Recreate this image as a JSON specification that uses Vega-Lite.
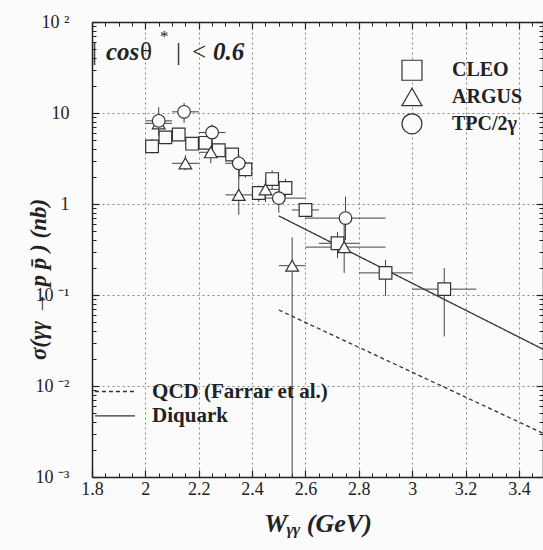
{
  "$schema": "https://vega.github.io/schema/vega-lite/v6.json",
  "width": 451,
  "height": 455,
  "autosize": "none",
  "padding": {"left": 92, "top": 22, "right": 0, "bottom": 73},
  "background": "#fbfbfb",
  "config": {
    "view": {"stroke": null},
    "font": "Liberation Serif",
    "axis": {"domainColor": "#222", "tickColor": "#222", "labelColor": "#222", "titleColor": "#222", "labelFont": "Liberation Serif", "titleFont": "Liberation Serif"}
  },
  "datasets": {
    "pts": [
      {"exp": "CLEO", "W": 2.025, "s": 4.3, "slo": 3.6, "shi": 5.2, "wlo": 2.0, "whi": 2.05},
      {"exp": "CLEO", "W": 2.075, "s": 5.4, "slo": 4.6, "shi": 6.3, "wlo": 2.05, "whi": 2.1},
      {"exp": "CLEO", "W": 2.125, "s": 5.8, "slo": 5.0, "shi": 6.7, "wlo": 2.1, "whi": 2.15},
      {"exp": "CLEO", "W": 2.175, "s": 4.6, "slo": 3.9, "shi": 5.4, "wlo": 2.15, "whi": 2.2},
      {"exp": "CLEO", "W": 2.225, "s": 4.7, "slo": 4.0, "shi": 5.5, "wlo": 2.2, "whi": 2.25},
      {"exp": "CLEO", "W": 2.275, "s": 3.9, "slo": 3.3, "shi": 4.6, "wlo": 2.25, "whi": 2.3},
      {"exp": "CLEO", "W": 2.325, "s": 3.5, "slo": 2.9, "shi": 4.1, "wlo": 2.3, "whi": 2.35},
      {"exp": "CLEO", "W": 2.375, "s": 2.4, "slo": 1.95, "shi": 2.9, "wlo": 2.35, "whi": 2.4},
      {"exp": "CLEO", "W": 2.425, "s": 1.32, "slo": 1.05, "shi": 1.6, "wlo": 2.4, "whi": 2.45},
      {"exp": "CLEO", "W": 2.475, "s": 1.88, "slo": 1.45, "shi": 2.35, "wlo": 2.45, "whi": 2.5},
      {"exp": "CLEO", "W": 2.525, "s": 1.5, "slo": 1.2, "shi": 1.9, "wlo": 2.5, "whi": 2.55},
      {"exp": "CLEO", "W": 2.6, "s": 0.86, "slo": 0.72, "shi": 1.0, "wlo": 2.55, "whi": 2.65},
      {"exp": "CLEO", "W": 2.72, "s": 0.37, "slo": 0.255, "shi": 0.49, "wlo": 2.65, "whi": 2.8},
      {"exp": "CLEO", "W": 2.9, "s": 0.175, "slo": 0.098, "shi": 0.243, "wlo": 2.8, "whi": 3.0},
      {"exp": "CLEO", "W": 3.12, "s": 0.116, "slo": 0.035, "shi": 0.198, "wlo": 3.0, "whi": 3.24},
      {"exp": "ARGUS", "W": 2.05, "s": 7.7, "slo": 5.8, "shi": 9.5, "wlo": 2.0, "whi": 2.1},
      {"exp": "ARGUS", "W": 2.15, "s": 2.8, "slo": 2.35, "shi": 3.45, "wlo": 2.1, "whi": 2.2},
      {"exp": "ARGUS", "W": 2.245, "s": 3.7, "slo": 2.8, "shi": 4.7, "wlo": 2.2, "whi": 2.3},
      {"exp": "ARGUS", "W": 2.35, "s": 1.26, "slo": 0.76, "shi": 2.0, "wlo": 2.3, "whi": 2.4},
      {"exp": "ARGUS", "W": 2.45, "s": 1.45, "slo": 1.05, "shi": 1.9, "wlo": 2.4, "whi": 2.5},
      {"exp": "ARGUS", "W": 2.55, "s": 0.21, "slo": 0.001, "shi": 0.43, "wlo": 2.5, "whi": 2.6},
      {"exp": "ARGUS", "W": 2.745, "s": 0.336, "slo": 0.175, "shi": 0.6, "wlo": 2.6, "whi": 2.9},
      {"exp": "TPC/2γ", "W": 2.05, "s": 8.2, "slo": 5.6, "shi": 11.6, "wlo": 2.0, "whi": 2.1},
      {"exp": "TPC/2γ", "W": 2.145, "s": 10.3, "slo": 7.8, "shi": 12.9, "wlo": 2.1, "whi": 2.2},
      {"exp": "TPC/2γ", "W": 2.25, "s": 6.1, "slo": 4.2, "shi": 7.5, "wlo": 2.2, "whi": 2.3},
      {"exp": "TPC/2γ", "W": 2.35, "s": 2.8, "slo": 1.9, "shi": 3.5, "wlo": 2.3, "whi": 2.4},
      {"exp": "TPC/2γ", "W": 2.5, "s": 1.16, "slo": 0.8, "shi": 1.4, "wlo": 2.45, "whi": 2.6},
      {"exp": "TPC/2γ", "W": 2.75, "s": 0.7, "slo": 0.4, "shi": 1.2, "wlo": 2.6, "whi": 2.9}
    ],
    "legend": [
      {"exp": "CLEO", "W": 2.999, "tx": 3.149, "s": 29.5},
      {"exp": "ARGUS", "W": 2.999, "tx": 3.149, "s": 15.0},
      {"exp": "TPC/2γ", "W": 2.999, "tx": 3.149, "s": 7.6}
    ],
    "theory": [
      {"model": "QCD", "W": 2.5, "s": 0.0684},
      {"model": "QCD", "W": 3.5, "s": 0.00293},
      {"model": "Diquark", "W": 2.5, "s": 0.74},
      {"model": "Diquark", "W": 3.5, "s": 0.0245}
    ],
    "keys": [
      {"model": "QCD", "label": "QCD (Farrar et al.)", "x1": 1.811, "x2": 1.961, "tx": 2.025, "s": 0.0087},
      {"model": "Diquark", "label": "Diquark", "x1": 1.811, "x2": 1.961, "tx": 2.025, "s": 0.0047}
    ],
    "notes": [
      {"t": "|", "W": 1.8, "s": 38.2, "sty": "reg"},
      {"t": "cos", "W": 1.852, "s": 38.2, "sty": "bi"},
      {"t": "θ", "W": 1.98, "s": 38.2, "sty": "reg"},
      {"t": "*", "W": 2.055, "s": 68, "sty": "sup"},
      {"t": "|", "W": 2.115, "s": 38.2, "sty": "reg"},
      {"t": "<", "W": 2.175, "s": 38.2, "sty": "reg"},
      {"t": "0.6", "W": 2.253, "s": 38.2, "sty": "bi"}
    ]
  },
  "resolve": {"axis": {"x": "independent", "y": "independent"}},
  "layer": [
    {
      "data": {"name": "pts"},
      "mark": {"type": "point", "opacity": 0},
      "encoding": {
        "x": {"field": "W", "type": "quantitative", "scale": {"domain": [1.8, 3.49], "nice": false, "zero": false},
          "axis": {"orient": "bottom", "values": [1.8, 2, 2.2, 2.4, 2.6, 2.8, 3, 3.2, 3.4], "format": "~g", "grid": true, "gridDash": [2, 3], "gridColor": "#888", "gridWidth": 1,
            "tickSize": -7, "tickWidth": 1.2, "domainWidth": 1.5, "labelFontSize": 18, "labelPadding": 10, "labelFlush": false,
            "title": "Wᵧᵧ (GeV)", "titleFontSize": 26, "titleFontStyle": "italic", "titleFontWeight": "bold", "titlePadding": 12}},
        "y": {"field": "s", "type": "quantitative", "scale": {"type": "log", "domain": [0.001, 100], "nice": false},
          "axis": {"orient": "left", "values": [0.001, 0.01, 0.1, 1, 10, 100], "grid": true, "gridDash": [2, 3], "gridColor": "#888", "gridWidth": 1,
            "tickSize": -7, "tickWidth": 1.2, "domainWidth": 1.5, "labelFontSize": 18, "labelPadding": 30, "labelFlush": false,
            "labelExpr": "datum.value >= 99 ? '10 ²' : datum.value >= 9.9 ? '10' : datum.value >= 0.99 ? '1' : datum.value >= 0.099 ? '10 ⁻¹' : datum.value >= 0.0099 ? '10 ⁻²' : '10 ⁻³'",
            "title": "σ(γγ → p p̄ ) (nb)", "titleFontSize": 23, "titleFontStyle": "italic", "titleFontWeight": "bold",
            "titleX": -54, "titleY": 257, "titleAlign": "center", "titleBaseline": "middle", "titleAngle": 270}}
      }
    },
    {
      "data": {"name": "pts"},
      "mark": {"type": "point", "opacity": 0},
      "encoding": {
        "x": {"field": "W", "type": "quantitative", "axis": {"orient": "top", "values": [1.8, 2, 2.2, 2.4, 2.6, 2.8, 3, 3.2, 3.4], "labels": false, "grid": false, "tickSize": -7, "tickWidth": 1.2, "domainWidth": 1.5, "title": null}},
        "y": {"field": "s", "type": "quantitative", "axis": {"orient": "right", "values": [0.001, 0.01, 0.1, 1, 10, 100], "labels": false, "grid": false, "tickSize": -7, "tickWidth": 1.2, "domainWidth": 1.5, "title": null}}
      }
    },
    {
      "data": {"name": "pts"},
      "mark": {"type": "point", "opacity": 0},
      "encoding": {
        "x": {"field": "W", "type": "quantitative", "axis": {"orient": "bottom", "values": [1.85, 1.9, 1.95, 2.05, 2.1, 2.15, 2.25, 2.3, 2.35, 2.45, 2.5, 2.55, 2.65, 2.7, 2.75, 2.85, 2.9, 2.95, 3.05, 3.1, 3.15, 3.25, 3.3, 3.35, 3.45], "labels": false, "grid": false, "domain": false, "tickSize": -4, "tickWidth": 1, "title": null}},
        "y": {"field": "s", "type": "quantitative", "axis": {"orient": "left", "values": [0.002, 0.003, 0.004, 0.005, 0.006, 0.007, 0.008, 0.009, 0.02, 0.03, 0.04, 0.05, 0.06, 0.07, 0.08, 0.09, 0.2, 0.3, 0.4, 0.5, 0.6, 0.7, 0.8, 0.9, 2, 3, 4, 5, 6, 7, 8, 9, 20, 30, 40, 50, 60, 70, 80, 90], "labels": false, "grid": false, "domain": false, "tickSize": -4, "tickWidth": 1, "title": null}}
      }
    },
    {
      "data": {"name": "pts"},
      "mark": {"type": "point", "opacity": 0},
      "encoding": {
        "x": {"field": "W", "type": "quantitative", "axis": {"orient": "top", "values": [1.85, 1.9, 1.95, 2.05, 2.1, 2.15, 2.25, 2.3, 2.35, 2.45, 2.5, 2.55, 2.65, 2.7, 2.75, 2.85, 2.9, 2.95, 3.05, 3.1, 3.15, 3.25, 3.3, 3.35, 3.45], "labels": false, "grid": false, "domain": false, "tickSize": -4, "tickWidth": 1, "title": null}},
        "y": {"field": "s", "type": "quantitative", "axis": {"orient": "right", "values": [0.002, 0.003, 0.004, 0.005, 0.006, 0.007, 0.008, 0.009, 0.02, 0.03, 0.04, 0.05, 0.06, 0.07, 0.08, 0.09, 0.2, 0.3, 0.4, 0.5, 0.6, 0.7, 0.8, 0.9, 2, 3, 4, 5, 6, 7, 8, 9, 20, 30, 40, 50, 60, 70, 80, 90], "labels": false, "grid": false, "domain": false, "tickSize": -4, "tickWidth": 1, "title": null}}
      }
    },
    {
      "data": {"name": "theory"},
      "mark": {"type": "line", "clip": true, "color": "#333", "strokeWidth": 1.3},
      "encoding": {
        "x": {"field": "W", "type": "quantitative", "axis": null},
        "y": {"field": "s", "type": "quantitative", "axis": null},
        "detail": {"field": "model"},
        "strokeDash": {"field": "model", "type": "nominal", "scale": {"domain": ["QCD", "Diquark"], "range": [[4, 3], [1, 0]]}, "legend": null}
      }
    },
    {
      "data": {"name": "pts"},
      "mark": {"type": "rule", "color": "#444", "strokeWidth": 1, "clip": true},
      "encoding": {
        "x": {"field": "wlo", "type": "quantitative", "axis": null},
        "x2": {"field": "whi"},
        "y": {"field": "s", "type": "quantitative", "axis": null}
      }
    },
    {
      "data": {"name": "pts"},
      "mark": {"type": "rule", "color": "#444", "strokeWidth": 1, "clip": true},
      "encoding": {
        "x": {"field": "W", "type": "quantitative", "axis": null},
        "y": {"field": "slo", "type": "quantitative", "axis": null},
        "y2": {"field": "shi"}
      }
    },
    {
      "data": {"name": "pts"},
      "mark": {"type": "point", "filled": false, "fill": "#fbfbfb", "fillOpacity": 1, "stroke": "#333", "strokeWidth": 1.2, "size": 160, "opacity": 1},
      "encoding": {
        "x": {"field": "W", "type": "quantitative", "axis": null},
        "y": {"field": "s", "type": "quantitative", "axis": null},
        "shape": {"field": "exp", "type": "nominal", "scale": {"domain": ["CLEO", "ARGUS", "TPC/2γ"], "range": ["square", "triangle-up", "circle"]}, "legend": null}
      }
    },
    {
      "data": {"name": "legend"},
      "mark": {"type": "point", "filled": false, "fill": "#fbfbfb", "fillOpacity": 1, "stroke": "#333", "strokeWidth": 1.2, "size": 400, "opacity": 1},
      "encoding": {
        "x": {"field": "W", "type": "quantitative", "axis": null},
        "y": {"field": "s", "type": "quantitative", "axis": null},
        "shape": {"field": "exp", "type": "nominal", "legend": null}
      }
    },
    {
      "data": {"name": "legend"},
      "mark": {"type": "text", "align": "left", "baseline": "middle", "font": "Liberation Serif", "fontWeight": "bold", "fontSize": 20, "color": "#222"},
      "encoding": {
        "x": {"field": "tx", "type": "quantitative", "axis": null},
        "y": {"field": "s", "type": "quantitative", "axis": null},
        "text": {"field": "exp"}
      }
    },
    {
      "data": {"name": "keys"},
      "mark": {"type": "rule", "color": "#333", "strokeWidth": 1.3},
      "encoding": {
        "x": {"field": "x1", "type": "quantitative", "axis": null},
        "x2": {"field": "x2"},
        "y": {"field": "s", "type": "quantitative", "axis": null},
        "strokeDash": {"field": "model", "type": "nominal", "legend": null}
      }
    },
    {
      "data": {"name": "keys"},
      "mark": {"type": "text", "align": "left", "baseline": "middle", "font": "Liberation Serif", "fontWeight": "bold", "fontSize": 21, "color": "#222"},
      "encoding": {
        "x": {"field": "tx", "type": "quantitative", "axis": null},
        "y": {"field": "s", "type": "quantitative", "axis": null},
        "text": {"field": "label"}
      }
    },
    {
      "data": {"name": "notes"},
      "transform": [{"filter": "datum.sty == 'bi'"}],
      "mark": {"type": "text", "align": "left", "baseline": "alphabetic", "font": "Liberation Serif", "fontWeight": "bold", "fontStyle": "italic", "fontSize": 25, "color": "#222"},
      "encoding": {
        "x": {"field": "W", "type": "quantitative", "axis": null},
        "y": {"field": "s", "type": "quantitative", "axis": null},
        "text": {"field": "t"}
      }
    },
    {
      "data": {"name": "notes"},
      "transform": [{"filter": "datum.sty == 'reg'"}],
      "mark": {"type": "text", "align": "left", "baseline": "alphabetic", "font": "Liberation Serif", "fontSize": 25, "color": "#222"},
      "encoding": {
        "x": {"field": "W", "type": "quantitative", "axis": null},
        "y": {"field": "s", "type": "quantitative", "axis": null},
        "text": {"field": "t"}
      }
    },
    {
      "data": {"name": "notes"},
      "transform": [{"filter": "datum.sty == 'sup'"}],
      "mark": {"type": "text", "align": "left", "baseline": "middle", "font": "Liberation Serif", "fontSize": 17, "color": "#222"},
      "encoding": {
        "x": {"field": "W", "type": "quantitative", "axis": null},
        "y": {"field": "s", "type": "quantitative", "axis": null},
        "text": {"field": "t"}
      }
    }
  ]
}
